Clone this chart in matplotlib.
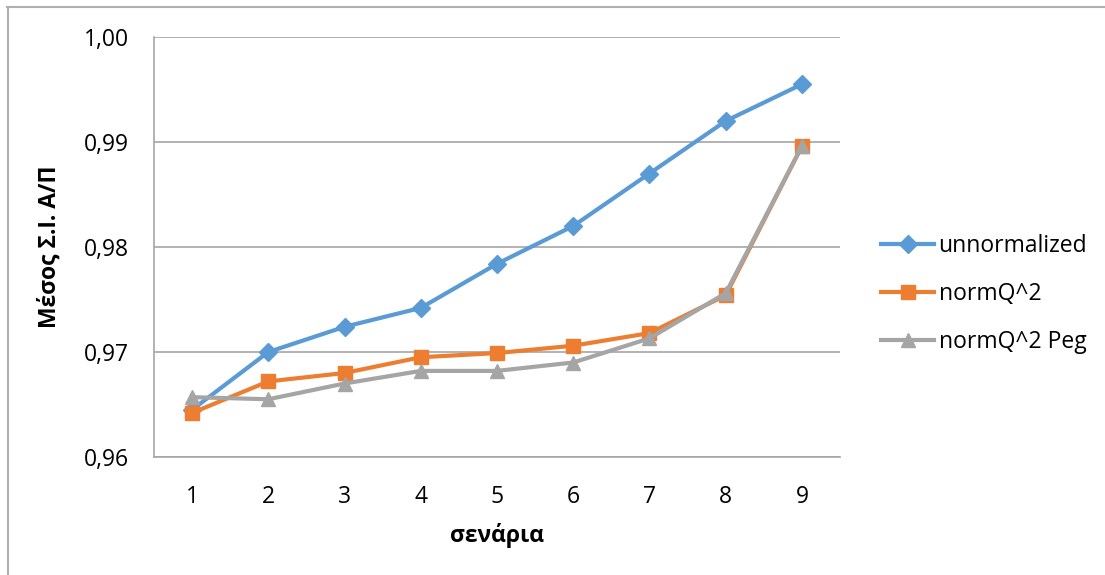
import matplotlib.pyplot as plt
from matplotlib.lines import Line2D
from matplotlib.ticker import FuncFormatter

plt.rcParams['font.family'] = ['Open Sans', 'DejaVu Sans']

scenarios = [1, 2, 3, 4, 5, 6, 7, 8, 9]
unnormalized = [0.9645, 0.9700, 0.9724, 0.9742, 0.9784, 0.9820, 0.9870, 0.9920, 0.9955]
norm_q2 = [0.9642, 0.9672, 0.9680, 0.9695, 0.9699, 0.9706, 0.9718, 0.9754, 0.9896]
norm_q2_peg = [0.9657, 0.9655, 0.9670, 0.9682, 0.9682, 0.9690, 0.9713, 0.9756, 0.9896]
y_ticks = [0.96, 0.97, 0.98, 0.99, 1.00]

W, H = 1105, 575
fig = plt.figure(figsize=(W / 100, H / 100), dpi=100)
ax = fig.add_axes([154 / W, 1 - 457 / H, (840 - 154) / W, (457 - 37) / H])

ax.plot(scenarios, unnormalized, color='#5b9bd5', lw=3, marker='D', ms=9,
        label='unnormalized', zorder=3)
ax.plot(scenarios, norm_q2, color='#ed7d31', lw=3, marker='s', ms=10,
        label='normQ^2', zorder=4)
ax.plot(scenarios, norm_q2_peg, color='#a5a5a5', lw=3, marker='^', ms=10,
        label='normQ^2 Peg', zorder=5)

ax.set_xlim(0.5, 9.5)
ax.set_ylim(0.96, 1.00)
ax.set_xticks(scenarios)
ax.set_yticks(y_ticks)
ax.yaxis.set_major_formatter(FuncFormatter(lambda v, p: f'{v:.2f}'.replace('.', ',')))
ax.tick_params(length=0, labelsize=16.5, colors='black', pad=18)
ax.tick_params(axis='x', pad=20)
ax.grid(axis='y', color='#a6a6a6', lw=1.2)
ax.set_axisbelow(True)
for side in ['top', 'right']:
    ax.spines[side].set_visible(False)
for side in ['left', 'bottom']:
    ax.spines[side].set_color('#a6a6a6')
    ax.spines[side].set_linewidth(1.2)

ax.set_xlabel('σενάρια', fontsize=16.5, fontweight='bold', labelpad=10)
ax.set_ylabel('Μέσος Σ.Ι. Α/Π', fontsize=16.5, fontweight='bold', labelpad=16)

ax.legend(loc='center left', bbox_to_anchor=(1.0, 0.388), frameon=False,
          fontsize=16.5, handlelength=2.3, labelspacing=1.05, handletextpad=0.2,
          borderaxespad=1.4)

# outer chart border
fig.add_artist(Line2D([7 / W, 1], [1 - 7 / H, 1 - 7 / H], color='#b0b0b0', lw=1.5))
fig.add_artist(Line2D([8 / W, 8 / W], [0, 1 - 7 / H], color='#b0b0b0', lw=1.5))

fig.savefig('out.png', dpi=100)
